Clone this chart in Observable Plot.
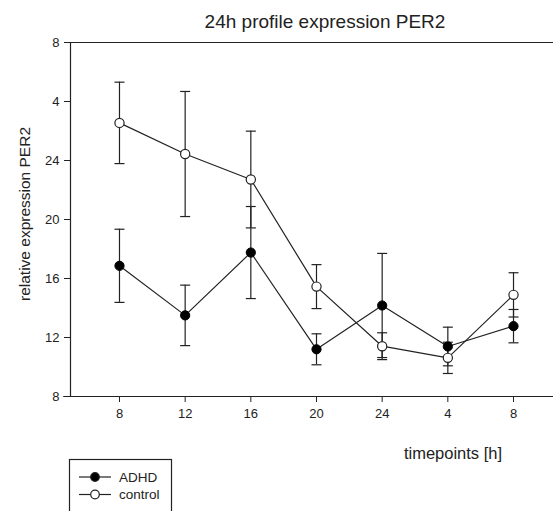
<!DOCTYPE html>
<html>
<head>
<meta charset="utf-8">
<script src="https://cdn.jsdelivr.net/npm/d3@7"></script>
<script src="https://cdn.jsdelivr.net/npm/@observablehq/plot@0.6"></script>
<style>
  html, body { margin: 0; padding: 0; background: #fff; }
  #chart { width: 553px; height: 511px; overflow: hidden; }
</style>
</head>
<body>
<div id="chart"></div>
<script>
// ---- data ----
const timeLabels = ["8", "12", "16", "20", "24", "4", "8"];
const adhdMean = [16.86, 13.5, 17.76, 11.2, 14.17, 11.39, 12.77];
const adhdErr = [2.48, 2.05, 3.12, 1.05, 3.53, 1.31, 1.13];
const controlMean = [26.55, 24.44, 22.71, 15.45, 11.41, 10.62, 14.89];
const controlErr = [2.76, 4.24, 3.28, 1.49, 0.91, 1.06, 1.5];
const yTicks = [8, 12, 16, 20, 24, 28, 32];
const yTickLabels = ["8", "12", "16", "20", "24", "4", "8"];
const seriesNames = ["ADHD", "control"];

const rows = [];
timeLabels.forEach((t, i) => {
  rows.push({i, series: "ADHD", mean: adhdMean[i], err: adhdErr[i]});
  rows.push({i, series: "control", mean: controlMean[i], err: controlErr[i]});
});
const adhd = rows.filter(d => d.series === "ADHD");
const control = rows.filter(d => d.series === "control");

const capSymbol = { draw(ctx) { ctx.moveTo(-5, 0); ctx.lineTo(5, 0); } };
const font = "Liberation Sans, Arial, sans-serif";

const plot = Plot.plot({
  width: 553,
  height: 511,
  marginTop: 42,
  marginLeft: 70,
  marginRight: 0,
  marginBottom: 115,
  style: { fontFamily: font, fontSize: "13px", color: "#222", background: "#fff" },
  x: { type: "linear", domain: [-0.746, 6.609] },
  y: { domain: [8, 32] },
  marks: [
    Plot.ruleY([32], { stroke: "#222", strokeWidth: 1.2 }),
    Plot.ruleY([8], { stroke: "#222", strokeWidth: 1.2, x1: -0.85, x2: 6.609, clip: false }),
    Plot.ruleX([-0.746], { stroke: "#222", strokeWidth: 1.2 }),
    Plot.axisX({ ticks: d3.range(timeLabels.length), tickFormat: i => timeLabels[i], tickSize: 6, tickPadding: 6, label: null, stroke: "#222", fontSize: 13 }),
    Plot.axisY({ ticks: yTicks, tickFormat: v => yTickLabels[yTicks.indexOf(v)], tickSize: 6, tickPadding: 5, label: null, stroke: "#222", fontSize: 13 }),
    // error bars
    Plot.ruleX(rows, { x: "i", y1: d => d.mean - d.err, y2: d => d.mean + d.err, stroke: "#222", strokeWidth: 1.2 }),
    Plot.dot(rows, { x: "i", y: d => d.mean - d.err, symbol: capSymbol, stroke: "#222", strokeWidth: 1.2 }),
    Plot.dot(rows, { x: "i", y: d => d.mean + d.err, symbol: capSymbol, stroke: "#222", strokeWidth: 1.2 }),
    // lines
    Plot.line(adhd, { x: "i", y: "mean", stroke: "#222", strokeWidth: 1.2 }),
    Plot.line(control, { x: "i", y: "mean", stroke: "#222", strokeWidth: 1.2 }),
    // markers
    Plot.dot(control, { x: "i", y: "mean", r: 4.6, fill: "#fff", stroke: "#222", strokeWidth: 1.2 }),
    Plot.dot(adhd, { x: "i", y: "mean", r: 4.6, fill: "#000", stroke: "#000", strokeWidth: 1 })
  ]
});

const svg = d3.select(plot);
svg.append("text")
  .attr("x", 325).attr("y", 28)
  .attr("text-anchor", "middle")
  .style("font-family", font).style("font-size", "19px").attr("fill", "#222")
  .text("24h profile expression PER2");
svg.append("text")
  .attr("transform", "translate(24,214) rotate(-90)")
  .attr("text-anchor", "middle").attr("dominant-baseline", "central")
  .style("font-family", font).style("font-size", "15.5px").attr("fill", "#222")
  .text("relative expression PER2");
svg.append("text")
  .attr("x", 453).attr("y", 459)
  .attr("text-anchor", "middle")
  .style("font-family", font).style("font-size", "16.5px").attr("fill", "#222")
  .text("timepoints [h]");

// legend
const lg = svg.append("g");
lg.append("rect").attr("x", 69.5).attr("y", 459.5).attr("width", 102).attr("height", 70)
  .attr("fill", "none").attr("stroke", "#222").attr("stroke-width", 1.2);
seriesNames.forEach((name, k) => {
  const yy = 477 + k * 17.5;
  lg.append("line").attr("x1", 79).attr("x2", 111).attr("y1", yy).attr("y2", yy)
    .attr("stroke", "#222").attr("stroke-width", 1.2);
  lg.append("circle").attr("cx", 95).attr("cy", yy).attr("r", 4.3)
    .attr("fill", k === 0 ? "#000" : "#fff").attr("stroke", "#222").attr("stroke-width", 1.2);
  lg.append("text").attr("x", 119).attr("y", yy)
    .attr("text-anchor", "start").attr("dominant-baseline", "central")
    .style("font-family", font).style("font-size", "13.5px").attr("fill", "#222")
    .text(name);
});

document.getElementById("chart").appendChild(plot);
</script>
</body>
</html>
